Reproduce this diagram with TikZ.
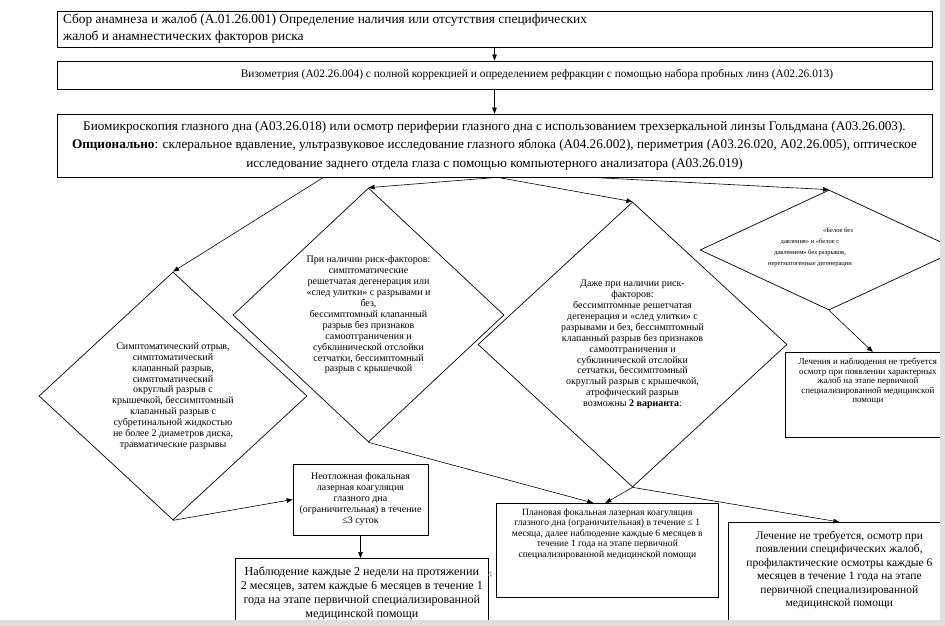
\documentclass[tikz,border=0pt]{standalone}
\usepackage{fontspec}
\setmainfont{Liberation Serif}
\usetikzlibrary{shapes.geometric,arrows.meta,calc}
\newcommand\fs[2]{\fontsize{#1}{#2}\selectfont}
\newcommand\topbox[4]{\parbox[c][#1][t]{#2}{\centering\vspace*{#3}#4\par}}
\begin{document}
\begin{tikzpicture}[x=1pt,y=-1pt,
  box/.style={draw, line width=0.7pt, inner sep=0pt, align=center},
  dia/.style={draw, diamond, line width=0.7pt, inner sep=0pt, align=center},
  arr/.style={-{Triangle[length=6pt,width=4.5pt]}, line width=0.6pt},
  band/.style={fill=black!13, draw=none}]
\useasboundingbox (0,0) rectangle (945,626);
\fill[white] (0,0) rectangle (945,626);

% top boxes
\node[box, minimum width=875, minimum height=36, font=\fs{13.4}{17}] (b1) at (494.5,29)
  {\parbox{863pt}{\raggedright Сбор анамнеза и жалоб (А.01.26.001) Определение наличия или отсутствия специфических\\жалоб и анамнестических факторов риска}};
\node[box, minimum width=875, minimum height=28, font=\fs{11.4}{17}] (b2) at (494.5,75)
  {\hspace*{85pt}Визометрия (А02.26.004) с полной коррекцией и определением рефракции с помощью  набора пробных линз (А02.26.013)};
\node[box, minimum width=875, minimum height=63, font=\fs{13.2}{18.5}] (b3) at (494.5,145.5)
  {Биомикроскопия глазного дна (А03.26.018) или осмотр периферии глазного дна с использованием трехзеркальной  линзы Гольдмана (А03.26.003).\\
   \textbf{Опционально}: склеральное вдавление, ультразвуковое исследование глазного яблока (А04.26.002),  периметрия (А03.26.020, А02.26.005), оптическое\\
   исследование заднего отдела глаза с помощью компьютерного анализатора (А03.26.019)};

% diamonds
\node[dia, minimum width=268, minimum height=248, font=\fs{10}{10.9}] (d1) at (173,396)
  {Симптоматический отрыв,\\симптоматический\\клапанный разрыв,\\симптоматический\\округлый разрыв с\\крышечкой, бессимптомный\\клапанный разрыв с\\субретинальной жидкостью\\не более 2 диаметров диска,\\травматические разрывы};
\node[dia, minimum width=271, minimum height=254, font=\fs{10}{10.9}] (d2) at (368.5,315)
  {При наличии риск-факторов:\\симптоматические\\решетчатая дегенерация или\\«след улитки» с разрывами и\\без,\\бессимптомный клапанный\\разрыв без признаков\\самоотграничения и\\субклинической отслойки\\сетчатки, бессимптомный\\разрыв с крышечкой};
\node[dia, minimum width=309, minimum height=285, font=\fs{10}{10.9}] (d3) at (632.5,344.5)
  {Даже при наличии риск-\\факторов:\\бессимптомные решетчатая\\дегенерация и «след улитки» с\\разрывами и без, бессимптомный\\клапанный разрыв без признаков\\самоотграничения и\\субклинической отслойки\\сетчатки, бессимптомный\\округлый разрыв с крышечкой,\\атрофический разрыв\\возможны \textbf{2 варианта}:};
\node[dia, minimum width=258, minimum height=120] (d4) at (829,250) {};
\node[align=center, inner sep=0pt, font=\fs{6.5}{11}] (d4t) at (810,247)
  {\hspace*{56pt}«Белое без\\давления» и «белое с\\давлением» без разрывов,\\нерегматогенные дегенерации};

% lower boxes
\node[box, anchor=north west, minimum width=165, minimum height=85, font=\fs{9}{9.5}] (r1) at (785,352)
  {\topbox{85pt}{165pt}{6pt}{Лечения и наблюдения не требуется\\осмотр при появлении характерных\\жалоб на этапе первичной\\специализированной медицинской\\помощи}};
\node[box, minimum width=135, minimum height=71, font=\fs{10}{11}] (n) at (360.5,499.5)
  {Неотложная фокальная\\лазерная коагуляция\\глазного дна\\(ограничительная) в течение\\≤3 суток};
\node[box, anchor=north west, minimum width=253, minimum height=80, font=\fs{12.1}{14}] (o) at (235,558)
  {\topbox{80pt}{253pt}{8pt}{Наблюдение каждые 2 недели на протяжении\\2 месяцев, затем каждые 6 месяцев в течение 1\\года на этапе первичной специализированной\\медицинской помощи}};
\node[box, anchor=north west, minimum width=222, minimum height=94, font=\fs{9.6}{10.5}] (p) at (496,503)
  {\topbox{94pt}{222pt}{5pt}{Плановая фокальная лазерная коагуляция\\глазного дна (ограничительная) в течение ≤ 1\\месяца, далее наблюдение  каждые 6 месяцев в\\течение 1 года на этапе первичной\\специализированной медицинской помощи}};
\node[box, anchor=north west, minimum width=222, minimum height=110, font=\fs{11.5}{13.4}] (q) at (728,522)
  {\topbox{110pt}{222pt}{9pt}{Лечение не требуется, осмотр при\\появлении специфических  жалоб,\\профилактические осмотры каждые 6\\месяцев в течение 1 года на этапе\\первичной специализированной\\медицинской помощи}};
\node[text=black!35, font=\fs{9}{10}, inner sep=0pt] (pg) at (490,575) {4};

% connectors
\draw[arr] (b1.south) -- (b2.north);
\draw[arr] (b2.south) -- (b3.north);
\draw[arr] ([xshift=-171]b3.south) -- (d1.north);
\draw[arr] ([xshift=3]b3.south) -- (d2.north);
\draw[arr] ([xshift=3]b3.south) -- (d3.north);
\draw[arr] ([xshift=96]b3.south) -- (d4.north);
\draw[arr] (d4.south) -- ([xshift=5]r1.north);
\draw[arr] (d1.south) -- (n.west);
\draw[arr] (n.south) -- (n.south |- o.north);
\draw[arr] (d2.south) -- ([xshift=-14]p.north);
\draw[arr] (d3.south) -- ([xshift=-2]p.north);
\draw[arr] (d3.south) -- (q.north);

% screenshot borders
\fill[band] (940,0) rectangle (945,626);
\fill[band] (0,620) rectangle (945,626);
\end{tikzpicture}
\end{document}
